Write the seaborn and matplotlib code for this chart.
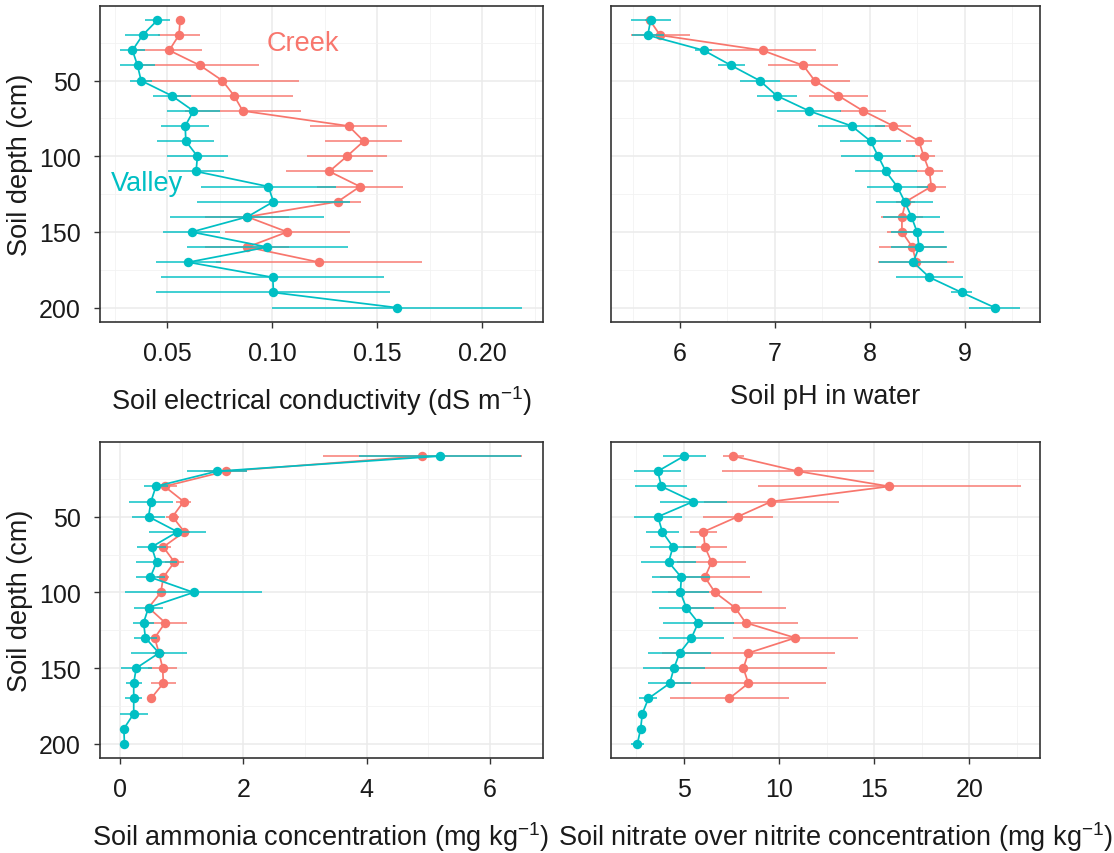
import numpy as np
import pandas as pd
import matplotlib
matplotlib.use("Agg")
import matplotlib.pyplot as plt
import seaborn as sns
from matplotlib.ticker import FixedLocator, FormatStrFormatter, NullFormatter

# ---------------- data ----------------
depth_valley = list(range(10, 201, 10))
depth_creek = list(range(10, 171, 10))

ec_valley = [0.0454, 0.0383, 0.0335, 0.0359, 0.0376, 0.0522, 0.0625, 0.0586, 0.0589, 0.0644,
             0.0638, 0.0982, 0.1006, 0.0882, 0.0617, 0.0977, 0.0601, 0.1003, 0.1006, 0.1593]
ec_valley_err = [0.0060, 0.0082, 0.0058, 0.0085, 0.0052, 0.0091, 0.0125, 0.0115, 0.0136, 0.0145,
                 0.0132, 0.0323, 0.0365, 0.0367, 0.0136, 0.0382, 0.0155, 0.0531, 0.0557, 0.0596]
ec_creek = [0.0562, 0.0556, 0.0510, 0.0657, 0.0763, 0.0819, 0.0860, 0.1364, 0.1436, 0.1356,
            0.1272, 0.1418, 0.1312, 0.0882, 0.1072, 0.0882, 0.1223]
ec_creek_err = [0.0020, 0.0101, 0.0155, 0.0278, 0.0366, 0.0282, 0.0276, 0.0182, 0.0184, 0.0189,
                0.0206, 0.0206, 0.0111, 0.0200, 0.0298, 0.0200, 0.0488]

ph_valley = [5.69, 5.66, 6.25, 6.54, 6.84, 7.02, 7.36, 7.81, 8.01, 8.09,
             8.17, 8.29, 8.37, 8.44, 8.50, 8.52, 8.46, 8.63, 8.97, 9.32]
ph_valley_err = [0.21, 0.17, 0.09, 0.14, 0.21, 0.21, 0.34, 0.35, 0.32, 0.39,
                 0.33, 0.32, 0.30, 0.30, 0.28, 0.30, 0.36, 0.35, 0.11, 0.27]
ph_creek = [5.68, 5.79, 6.87, 7.30, 7.42, 7.67, 7.93, 8.25, 8.52, 8.57,
            8.63, 8.65, 8.38, 8.34, 8.34, 8.45, 8.49]
ph_creek_err = [0.05, 0.31, 0.56, 0.37, 0.37, 0.31, 0.24, 0.19, 0.14, 0.12,
                0.14, 0.15, 0.10, 0.22, 0.16, 0.35, 0.40]

nh_valley = [5.19, 1.57, 0.58, 0.50, 0.46, 0.93, 0.51, 0.59, 0.49, 1.19,
             0.46, 0.38, 0.41, 0.63, 0.26, 0.22, 0.22, 0.22, 0.06, 0.07]
nh_valley_err = [1.31, 0.49, 0.19, 0.36, 0.27, 0.47, 0.24, 0.34, 0.24, 1.11,
                 0.23, 0.17, 0.19, 0.46, 0.25, 0.13, 0.14, 0.23, 0.03, 0.05]
nh_creek = [4.90, 1.71, 0.72, 1.03, 0.85, 1.04, 0.70, 0.88, 0.70, 0.66,
            0.46, 0.73, 0.56, 0.63, 0.69, 0.70, 0.50]
nh_creek_err = [1.61, 0.35, 0.20, 0.12, 0.10, 0.10, 0.13, 0.15, 0.10, 0.05,
                0.05, 0.36, 0.05, 0.10, 0.24, 0.20, 0.02]

no_valley = [5.00, 3.62, 3.81, 5.49, 3.63, 3.86, 4.42, 4.19, 4.86, 4.81,
             5.12, 5.75, 5.39, 4.77, 4.47, 4.25, 3.13, 2.81, 2.72, 2.55]
no_valley_err = [1.13, 1.24, 1.37, 1.77, 1.28, 0.88, 1.21, 1.46, 1.52, 1.51,
                 1.44, 1.88, 1.72, 1.64, 1.63, 1.13, 0.47, 0.15, 0.20, 0.36]
no_creek = [7.59, 10.98, 15.79, 9.59, 7.82, 6.02, 6.10, 6.45, 6.10, 6.63,
            7.68, 8.24, 10.85, 8.38, 8.12, 8.38, 7.38]
no_creek_err = [0.55, 3.98, 6.90, 3.55, 1.84, 0.70, 1.17, 1.80, 2.36, 2.45,
                2.70, 2.77, 3.27, 4.55, 4.40, 4.10, 3.12]

sites = ["Creek", "Valley"]
site_colors = {"Creek": "#F8766D", "Valley": "#00BFC4"}

xlabels = [
    "Soil electrical conductivity (dS m$^{-1}$)",
    "Soil pH in water",
    "Soil ammonia concentration (mg kg$^{-1}$)",
    "Soil nitrate over nitrite concentration (mg kg$^{-1}$)",
]
ylabel = "Soil depth (cm)"
depth_ticks = [50, 100, 150, 200]

panels = [
    dict(creek=(ec_creek, ec_creek_err), valley=(ec_valley, ec_valley_err),
         xlim=(0.0178, 0.2287), major=[0.05, 0.10, 0.15, 0.20],
         minor=[0.025, 0.075, 0.125, 0.175, 0.225], fmt="%.2f", lx=0.5),
    dict(creek=(ph_creek, ph_creek_err), valley=(ph_valley, ph_valley_err),
         xlim=(5.272, 9.796), major=[6, 7, 8, 9],
         minor=[5.5, 6.5, 7.5, 8.5, 9.5], fmt="%d", lx=0.5),
    dict(creek=(nh_creek, nh_creek_err), valley=(nh_valley, nh_valley_err),
         xlim=(-0.335, 6.85), major=[0, 2, 4, 6],
         minor=[1, 3, 5], fmt="%d", lx=0.5),
    dict(creek=(no_creek, no_creek_err), valley=(no_valley, no_valley_err),
         xlim=(1.163, 23.71), major=[5, 10, 15, 20],
         minor=[2.5, 7.5, 12.5, 17.5, 22.5], fmt="%d", lx=0.5245),
]

# ---------------- style ----------------
sns.set_theme(style="white")
plt.rcParams["font.family"] = ["Liberation Sans", "DejaVu Sans"]
plt.rcParams["mathtext.fontset"] = "custom"
plt.rcParams["mathtext.rm"] = "Liberation Sans"
plt.rcParams["mathtext.it"] = "Liberation Sans:italic"
plt.rcParams["mathtext.bf"] = "Liberation Sans:bold"

fig = plt.figure(figsize=(11.14, 8.54), dpi=100)
W, H = 1114, 854
boxes = [
    (99.5, 6.7, 542.5, 323.0),
    (611.0, 6.7, 1040.0, 323.0),
    (99.5, 442.7, 542.5, 759.3),
    (611.0, 442.7, 1040.0, 759.3),
]

border = "#333333"
shift_axes = []
for i, (p, (l, t, r, b)) in enumerate(zip(panels, boxes)):
    ax = fig.add_axes([l / W, 1 - b / H, (r - l) / W, (b - t) / H])
    ax.set_facecolor("white")
    zbase = 2
    for site in sites:
        depth = depth_creek if site == "Creek" else depth_valley
        vals, errs = p["creek"] if site == "Creek" else p["valley"]
        df = pd.DataFrame({"depth": depth, "value": vals, "err": errs})
        col = site_colors[site]
        ax.errorbar(df["value"], df["depth"], xerr=df["err"], fmt="none",
                    ecolor=col, elinewidth=1.4, capsize=0, alpha=0.75, zorder=zbase)
        sns.lineplot(data=df, x="value", y="depth", orient="y", estimator=None,
                     color=col, marker="o", markersize=6.8, markeredgewidth=0,
                     linewidth=1.25, ax=ax, zorder=zbase + 1, legend=False)
        zbase += 2

    ax.set_xlim(*p["xlim"])
    ax.set_ylim(209.5, 0.5)
    ax.xaxis.set_major_locator(FixedLocator(p["major"]))
    ax.xaxis.set_minor_locator(FixedLocator(p["minor"]))
    ax.xaxis.set_major_formatter(FormatStrFormatter(p["fmt"]))
    ax.yaxis.set_major_locator(FixedLocator(depth_ticks))
    ax.yaxis.set_minor_locator(FixedLocator([25, 75, 125, 175]))
    ax.grid(which="major", color="#EBEBEB", linewidth=1.1)
    ax.grid(which="minor", color="#F2F2F2", linewidth=0.6)
    ax.set_axisbelow(True)
    for s in ax.spines.values():
        s.set_color(border)
        s.set_linewidth(1.2)
        s.set_visible(True)
    ax.tick_params(axis="x", which="major", direction="out", length=4.5, width=1,
                   color=border, labelsize=18, labelcolor="#1a1a1a", pad=9, bottom=True)
    ax.tick_params(axis="x", which="minor", length=0)
    ax.tick_params(axis="y", which="minor", length=0)
    if i % 2 == 0:
        ax.tick_params(axis="y", which="major", direction="out", length=4.5, width=1,
                       color=border, labelsize=18, labelcolor="#1a1a1a", pad=9, left=True)
        ax.set_ylabel(ylabel, fontsize=19.5, color="#1a1a1a", labelpad=4)
    else:
        ax.tick_params(axis="y", which="major", length=0, labelleft=False)
        ax.set_ylabel("")
    ax.set_xlabel(xlabels[i], fontsize=19.5, color="#1a1a1a", labelpad=13)
    if p["lx"] != 0.5:
        shift_axes.append((ax, p["lx"]))

    if i == 0:
        ax.text(0.1148, 25, "Creek", color=site_colors["Creek"], fontsize=19.5,
                ha="center", va="center")
        ax.text(0.0402, 117.5, "Valley", color=site_colors["Valley"], fontsize=19.5,
                ha="center", va="center")

# shift crowded x titles sideways while keeping their automatic vertical position
fig.canvas.draw()
for ax, lx in shift_axes:
    y_px = ax.xaxis.label.get_position()[1]
    bb = ax.get_window_extent()
    ax.xaxis.set_label_coords(lx, (y_px - bb.y0) / bb.height)

fig.savefig("out.png", dpi=100, facecolor="white")
